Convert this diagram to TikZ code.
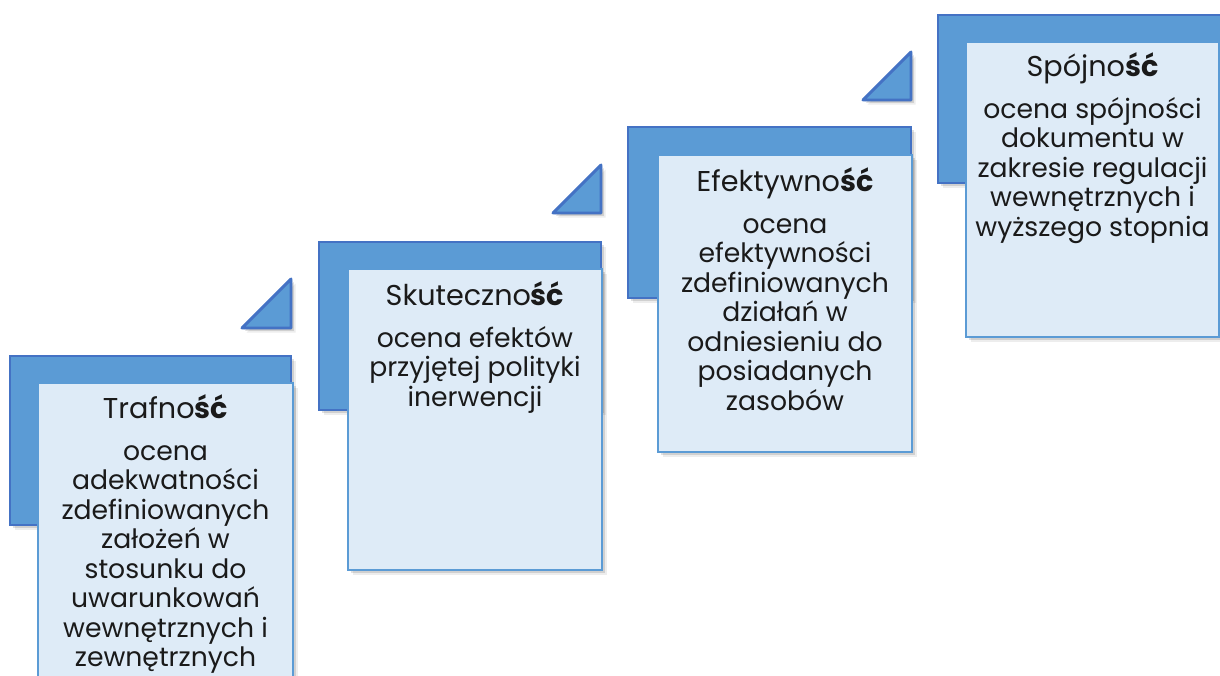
\documentclass[tikz,border=0pt]{standalone}
\usepackage{fontspec}
\setmainfont{Poppins}
\usetikzlibrary{shadows}
\definecolor{darkfill}{HTML}{5B9BD5}
\definecolor{darkline}{HTML}{4472C4}
\definecolor{lightfill}{HTML}{DEEBF7}
\definecolor{lightline}{HTML}{5B9BD5}
\definecolor{txt}{HTML}{1A1A1A}
\tikzset{
  softshadow/.style={
    drop shadow={shadow xshift=1.1pt,shadow yshift=-1.1pt,opacity=0.18,fill=black},
    drop shadow={shadow xshift=2.2pt,shadow yshift=-2.2pt,opacity=0.12,fill=black},
    drop shadow={shadow xshift=3.4pt,shadow yshift=-3.4pt,opacity=0.07,fill=black}},
  darkblock/.style={fill=darkfill,draw=darkline,line width=2.2pt,softshadow},
  lightbox/.style={fill=lightfill,draw=lightline,line width=1.2pt,softshadow},
  corner/.style={fill=darkfill,draw=darkline,line width=2.2pt,line join=round,softshadow},
  titletext/.style={font=\fontsize{21.5}{26}\selectfont,text=txt,anchor=base,inner sep=0pt},
  bodytext/.style={font=\fontsize{20}{24}\selectfont,text=txt,anchor=base,inner sep=0pt},
}
\begin{document}
\begin{tikzpicture}[x=0.75pt,y=-0.75pt]
\useasboundingbox (0,0) rectangle (1220,675);
\clip (0,0) rectangle (1220,675);
% corner triangles
\draw[corner] (242,328) -- (291,328) -- (291,279) -- cycle;
\draw[corner] (553,213) -- (601,213) -- (601,165) -- cycle;
\draw[corner] (863,100) -- (911,100) -- (911,52) -- cycle;
% step 1
\draw[darkblock] (10,356) rectangle (291,525);
\draw[lightbox] (38,383) rectangle (293,690);
% step 2
\draw[darkblock] (319,242) rectangle (601,410);
\draw[lightbox] (348,269) rectangle (602,570);
% step 3
\draw[darkblock] (628,127) rectangle (911,298);
\draw[lightbox] (658,155) rectangle (912,452);
% step 4
\draw[darkblock] (938,15) rectangle (1222,183);
\draw[lightbox] (966,42) rectangle (1219,337);
% texts
\node[titletext] (t1) at (165.5,418) {Trafno\textbf{ść}};
\foreach \t [count=\k] in {ocena,adekwatności,zdefiniowanych,założeń w,stosunku do,uwarunkowań,wewnętrznych i,zewnętrznych}
  \node[bodytext] (b1l\k) at (165.5,460+29.5*\k-29.5) {\t};
\node[titletext] (t2) at (475,305) {Skuteczno\textbf{ść}};
\foreach \t [count=\k] in {ocena efektów,przyjętej polityki,inerwencji}
  \node[bodytext] (b2l\k) at (475,347+29.5*\k-29.5) {\t};
\node[titletext] (t3) at (785,191) {Efektywno\textbf{ść}};
\foreach \t [count=\k] in {ocena,efektywności,zdefiniowanych,działań w,odniesieniu do,posiadanych,zasobów}
  \node[bodytext] (b3l\k) at (785,233+29.5*\k-29.5) {\t};
\node[titletext] (t4) at (1092.5,76) {Spójno\textbf{ść}};
\foreach \t [count=\k] in {ocena spójności,dokumentu w,zakresie regulacji,wewnętrznych i,wyższego stopnia}
  \node[bodytext] (b4l\k) at (1092.5,118+29.5*\k-29.5) {\t};
\end{tikzpicture}
\end{document}
